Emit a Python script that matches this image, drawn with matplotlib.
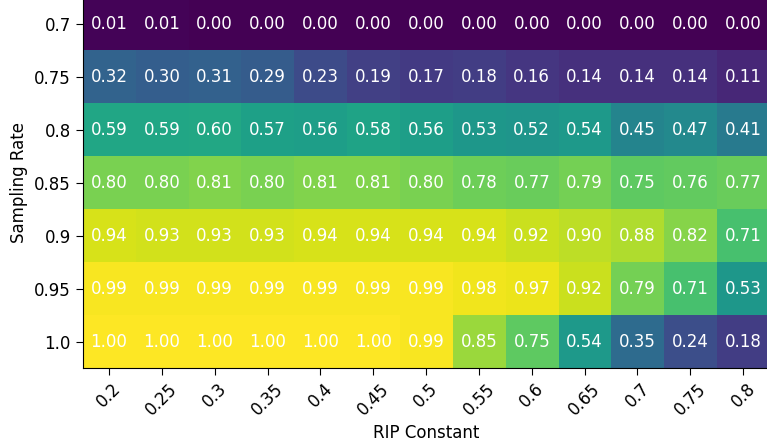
import numpy as np
import matplotlib
matplotlib.use("Agg")
import matplotlib.pyplot as plt

# RIP constant (columns) and sampling rate (rows)
rip_constants = ["0.2", "0.25", "0.3", "0.35", "0.4", "0.45", "0.5",
                 "0.55", "0.6", "0.65", "0.7", "0.75", "0.8"]
sampling_rates = ["0.7", "0.75", "0.8", "0.85", "0.9", "0.95", "1.0"]

row_070 = [0.01, 0.01, 0.00, 0.00, 0.00, 0.00, 0.00, 0.00, 0.00, 0.00, 0.00, 0.00, 0.00]
row_075 = [0.32, 0.30, 0.31, 0.29, 0.23, 0.19, 0.17, 0.18, 0.16, 0.14, 0.14, 0.14, 0.11]
row_080 = [0.59, 0.59, 0.60, 0.57, 0.56, 0.58, 0.56, 0.53, 0.52, 0.54, 0.45, 0.47, 0.41]
row_085 = [0.80, 0.80, 0.81, 0.80, 0.81, 0.81, 0.80, 0.78, 0.77, 0.79, 0.75, 0.76, 0.77]
row_090 = [0.94, 0.93, 0.93, 0.93, 0.94, 0.94, 0.94, 0.94, 0.92, 0.90, 0.88, 0.82, 0.71]
row_095 = [0.99, 0.99, 0.99, 0.99, 0.99, 0.99, 0.99, 0.98, 0.97, 0.92, 0.79, 0.71, 0.53]
row_100 = [1.00, 1.00, 1.00, 1.00, 1.00, 1.00, 0.99, 0.85, 0.75, 0.54, 0.35, 0.24, 0.18]

data = np.array([row_070, row_075, row_080, row_085, row_090, row_095, row_100])

W, H = 767, 446
fig = plt.figure(figsize=(W / 100, H / 100), dpi=100)
left, right, top, bottom = 82.6, 769.6, -3.0, 368.0
ax = fig.add_axes([left / W, 1 - bottom / H, (right - left) / W, (bottom - top) / H])

ax.imshow(data, cmap="viridis", vmin=0, vmax=1, aspect="auto")

for i in range(data.shape[0]):
    for j in range(data.shape[1]):
        ax.text(j, i, f"{data[i, j]:.2f}", ha="center", va="center",
                color="white", fontsize=12)

ax.set_xticks(np.arange(len(rip_constants)))
ax.set_xticklabels(rip_constants, rotation=45, ha="center", fontsize=12)
ax.set_yticks(np.arange(len(sampling_rates)))
ax.set_yticklabels(sampling_rates, fontsize=12)
ax.tick_params(length=5)
ax.set_xlabel("RIP Constant", fontsize=12)
ax.set_ylabel("Sampling Rate", fontsize=12)

fig.savefig("out.png", dpi=100)
